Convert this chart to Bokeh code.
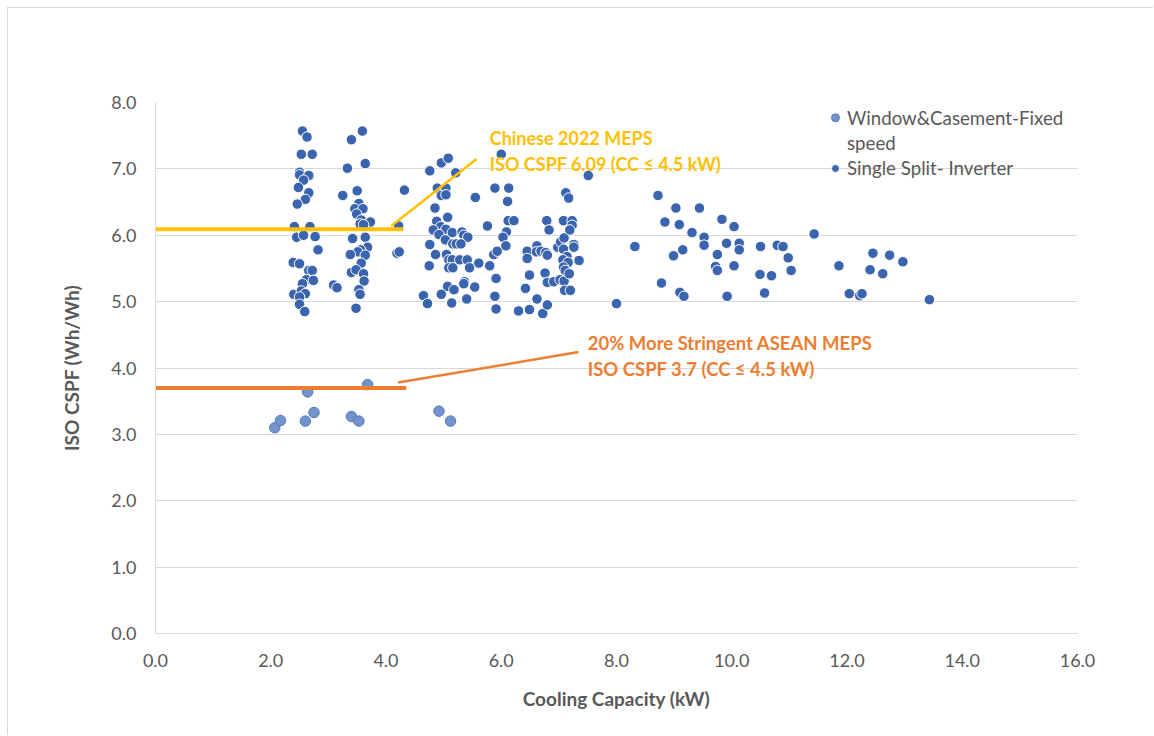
from bokeh.plotting import figure
from bokeh.models import Range1d, FixedTicker, NumeralTickFormatter, Label
from bokeh.embed import file_html
from bokeh.resources import INLINE

# Window & casement units, fixed speed
win_kw = [2.07, 2.17, 2.60, 2.64, 2.75, 3.40, 3.53, 3.68, 4.92, 5.12]
win_cspf = [3.10, 3.21, 3.20, 3.64, 3.33, 3.27, 3.20, 3.75, 3.35, 3.20]

# Single split units, inverter
split_kw = [
    2.55, 2.63, 2.53, 2.72, 2.50, 2.50, 2.66, 2.57, 2.48, 2.66, 2.60, 2.46, 2.41, 2.68,
    2.45, 2.57, 2.77, 2.82, 2.39, 2.50, 2.66, 2.72, 2.62, 2.74, 2.55, 2.40, 2.53, 2.60,
    2.50, 2.50, 2.59,
    3.59, 3.40, 3.64, 3.33, 3.25, 3.50, 3.53, 3.46, 3.60, 3.49, 3.57, 3.73, 3.55, 3.61,
    3.42, 3.64, 3.68, 3.56, 3.51, 3.38, 3.64, 3.57, 3.40, 3.48, 3.61, 3.62, 3.53, 3.55,
    3.09, 3.15, 3.48,
    4.32, 4.19, 4.23, 4.22,
    4.76, 4.96, 5.08, 5.21, 4.89, 5.04, 4.96, 5.04, 4.85, 5.55, 5.07, 4.88, 4.95, 5.04,
    4.82, 5.15, 4.92, 5.03, 5.32, 5.35, 5.42, 5.76, 4.76, 4.75, 5.16, 5.22, 5.30, 4.86,
    5.05, 5.09, 5.15, 5.28, 5.41, 5.09, 5.16, 5.45, 5.61, 5.07, 5.18, 5.36, 5.35, 5.54,
    4.65, 4.72, 4.96, 5.14, 5.40,
    6.00, 5.89, 6.13, 6.11, 6.12, 6.22, 6.09, 6.03, 6.08, 5.80, 5.87, 5.93, 5.91, 5.89,
    5.91,
    6.30, 6.49, 6.72, 6.80, 6.62, 6.42, 6.49, 6.45, 6.45, 6.62, 6.61, 6.69, 6.77, 6.80,
    6.76, 6.80, 6.91, 7.02, 7.09, 7.10, 7.20, 6.98, 7.03, 7.09, 7.08, 7.14, 7.26, 7.26,
    7.07, 7.16, 7.08, 7.11, 7.18, 7.35, 7.12, 7.17, 6.79, 7.08, 7.23, 6.83, 7.23, 7.19,
    7.51,
    8.00, 8.72, 9.03, 9.44, 8.84, 9.09, 9.83, 10.04, 9.31, 9.52, 11.43, 8.32, 9.52, 9.91,
    10.13, 10.13, 9.15, 8.99, 9.75, 9.72, 9.75, 10.04, 10.50, 10.79, 10.89, 10.98, 11.03,
    10.49, 10.69, 11.86, 8.78, 9.10, 9.17, 9.92, 10.57, 12.04, 12.22, 12.26, 12.45, 12.74,
    12.40, 12.62, 12.97, 13.43,
]
split_cspf = [
    7.57, 7.48, 7.22, 7.22, 6.95, 6.91, 6.90, 6.83, 6.72, 6.64, 6.54, 6.47, 6.13, 6.13,
    5.97, 6.00, 5.98, 5.78, 5.59, 5.57, 5.47, 5.47, 5.33, 5.32, 5.27, 5.11, 5.16, 5.12,
    5.07, 4.96, 4.85,
    7.57, 7.44, 7.08, 7.01, 6.60, 6.67, 6.48, 6.40, 6.40, 6.32, 6.23, 6.20, 6.17, 6.16,
    5.95, 5.97, 5.82, 5.78, 5.75, 5.71, 5.70, 5.58, 5.44, 5.48, 5.42, 5.31, 5.18, 5.11,
    5.25, 5.21, 4.90,
    6.68, 5.73, 5.75, 6.14,
    6.97, 7.09, 7.16, 6.94, 6.71, 6.71, 6.60, 6.61, 6.41, 6.57, 6.27, 6.21, 6.13, 6.09,
    6.08, 6.04, 6.01, 5.93, 6.05, 6.00, 5.97, 6.14, 5.86, 5.54, 5.87, 5.87, 5.87, 5.71,
    5.71, 5.63, 5.63, 5.63, 5.63, 5.51, 5.51, 5.51, 5.58, 5.23, 5.18, 5.30, 5.27, 5.22,
    5.09, 4.97, 5.11, 4.98, 5.04,
    7.22, 6.71, 6.71, 6.51, 6.22, 6.22, 6.05, 5.97, 5.84, 5.54, 5.71, 5.76, 5.35, 5.08,
    4.89,
    4.86, 4.88, 4.82, 4.95, 5.04, 5.20, 5.40, 5.76, 5.65, 5.84, 5.75, 5.76, 5.74, 5.70,
    5.43, 5.29, 5.30, 5.33, 5.31, 5.17, 5.17, 5.82, 5.90, 5.96, 5.79, 5.68, 5.86, 5.82,
    5.63, 5.59, 5.52, 5.47, 5.42, 5.62, 6.64, 6.56, 6.22, 6.22, 6.22, 6.08, 6.15, 6.08,
    6.90,
    4.97, 6.60, 6.41, 6.41, 6.20, 6.16, 6.24, 6.13, 6.04, 5.97, 6.02, 5.83, 5.85, 5.88,
    5.88, 5.78, 5.78, 5.69, 5.71, 5.53, 5.47, 5.54, 5.83, 5.85, 5.83, 5.66, 5.47,
    5.41, 5.39, 5.54, 5.28, 5.14, 5.08, 5.08, 5.13, 5.12, 5.09, 5.12, 5.73, 5.70,
    5.48, 5.42, 5.60, 5.03,
]

# Minimum energy performance standards
china_meps = 6.09
asean_meps = 3.7
china_span = [0.0, 4.3]
asean_span = [0.0, 4.35]

x_ticks = [0, 2, 4, 6, 8, 10, 12, 14, 16]
y_ticks = [0, 1, 2, 3, 4, 5, 6, 7, 8]

FONT = "Lato"
GREY = "#595959"
GRID = "#D9D9D9"
YELLOW = "#FFC000"
ORANGE = "#ED7D31"
DARK_BLUE = "#3A64AE"
LIGHT_BLUE = "#7393CC"

# The chart sits inside a light frame offset from the page corner
p = figure(width=1146, height=728, output_backend="svg", toolbar_location=None,
           x_range=Range1d(0, 16), y_range=Range1d(0, 8),
           min_border_left=147, min_border_right=77,
           min_border_top=94, min_border_bottom=103,
           styles={"margin-left": "7px", "margin-top": "7px",
                   "border-left": "1px solid #D9D9D9",
                   "border-top": "1px solid #D9D9D9"})
p.outline_line_color = None
p.background_fill_color = "white"
p.border_fill_color = "white"

# Axes
for ax in (p.xaxis, p.yaxis):
    ax.axis_line_color = GRID
    ax.major_tick_line_color = None
    ax.minor_tick_line_color = None
    ax.major_label_text_font = FONT
    ax.major_label_text_font_size = "18px"
    ax.major_label_text_color = GREY
    ax.axis_label_text_font = FONT
    ax.axis_label_text_font_size = "19px"
    ax.axis_label_text_font_style = "bold"
    ax.axis_label_text_color = GREY
    ax.formatter = NumeralTickFormatter(format="0.0")
p.xaxis.ticker = FixedTicker(ticks=x_ticks)
p.yaxis.ticker = FixedTicker(ticks=y_ticks)
p.xaxis.major_label_standoff = 14
p.yaxis.major_label_standoff = 13
p.xaxis.axis_label = "Cooling Capacity (kW)"
p.yaxis.axis_label = "ISO CSPF (Wh/Wh)"
p.xaxis.axis_label_standoff = 17
p.yaxis.axis_label_standoff = 25
p.xgrid.grid_line_color = None
p.ygrid.grid_line_color = GRID
p.ygrid.ticker = FixedTicker(ticks=y_ticks)

# Data series
p.scatter(split_kw, split_cspf, size=10.5, fill_color=DARK_BLUE,
          line_color="white", line_width=1)
p.scatter(win_kw, win_cspf, size=10.5, fill_color=LIGHT_BLUE,
          line_color="#5479BD", line_width=1)

# MEPS reference lines
p.line(china_span, [china_meps, china_meps], line_color=YELLOW, line_width=4)
p.line(asean_span, [asean_meps, asean_meps], line_color=ORANGE, line_width=4)

# Callout leaders
p.line([4.09, 5.57], [6.14, 7.15], line_color=YELLOW, line_width=2.5)
p.line([4.21, 7.34], [3.78, 4.24], line_color=ORANGE, line_width=2.5)

def add_text(x, y, txt, color, bold=False, size="18px"):
    p.add_layout(Label(x=x, y=y, text=txt, text_font=FONT, text_font_size=size,
                       text_color=color, text_baseline="middle", text_align="left",
                       text_font_style="bold" if bold else "normal"))

add_text(5.80, 7.46, "Chinese 2022 MEPS", YELLOW, bold=True)
add_text(5.80, 7.08, "ISO CSPF %.2f (CC \u2264 4.5 kW)" % china_meps, YELLOW, bold=True)
add_text(7.50, 4.37, "20% More Stringent ASEAN MEPS", ORANGE, bold=True, size="18.5px")
add_text(7.50, 3.99, "ISO CSPF %.1f (CC \u2264 4.5 kW)" % asean_meps, ORANGE, bold=True,
         size="18.5px")

# Legend
legend_x = 11.80
p.scatter([legend_x], [7.77], size=8, fill_color=LIGHT_BLUE, line_color="#5479BD")
p.scatter([legend_x], [7.006], size=8, fill_color=DARK_BLUE, line_color="white")
add_text(12.0, 7.77, "Window&Casement-Fixed", GREY, size="18.7px")
add_text(12.0, 7.39, "speed", GREY, size="18.7px")
add_text(12.0, 7.006, "Single Split- Inverter", GREY, size="18.7px")

open("out.html", "w").write(file_html(p, INLINE))
